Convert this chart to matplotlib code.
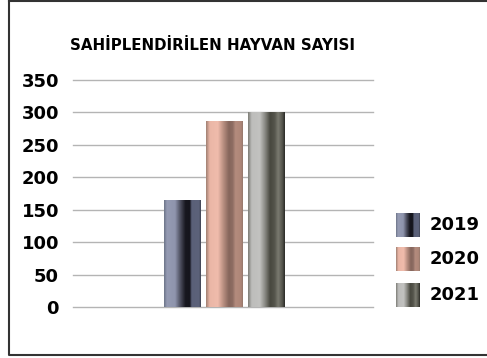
import matplotlib
matplotlib.use('Agg')
import matplotlib.pyplot as plt
import numpy as np
from matplotlib.colors import LinearSegmentedColormap

years = ['2019', '2020', '2021']
adopted = [165, 287, 300]
y_ticks = [0, 50, 100, 150, 200, 250, 300, 350]
title = 'SAHİPLENDİRİLEN HAYVAN SAYISI'

# metallic gradients, left to right across each bar
stops = {
    '2019': [(0.0, '#6c7488'), (0.08, '#959bb3'), (0.3, '#8f95ad'), (0.45, '#4a4c5c'),
             (0.58, '#17171f'), (0.7, '#15151d'), (0.75, '#5a6078'), (0.95, '#5c627a'), (1.0, '#3e4250')],
    '2020': [(0.0, '#a08072'), (0.1, '#eab6a6'), (0.32, '#f0bcac'), (0.48, '#b58c7e'),
             (0.62, '#86665c'), (0.72, '#8c6c62'), (0.8, '#b48c7e'), (0.95, '#ad8678'), (1.0, '#94786c')],
    '2021': [(0.0, '#7c7c76'), (0.1, '#bdbdbb'), (0.32, '#c2c2c0'), (0.46, '#8a8a84'),
             (0.6, '#48483f'), (0.72, '#55554c'), (0.82, '#7a7a70'), (0.93, '#55554c'), (1.0, '#2a2a26')],
}
cmaps = {k: LinearSegmentedColormap.from_list(k, v) for k, v in stops.items()}
grad = np.linspace(0, 1, 256).reshape(1, -1)

fig = plt.figure(figsize=(4.87, 3.58), dpi=100)
fig.patch.set_facecolor('white')

ax = fig.add_axes([73 / 487, 51 / 358, 300 / 487, 227 / 358])
x = np.arange(len(years)) - 1
bars = ax.bar(x, adopted, width=0.88, color='none', zorder=3)
for rect, yr in zip(bars, years):
    x0, y0 = rect.get_x(), rect.get_y()
    im = ax.imshow(grad, cmap=cmaps[yr], aspect='auto', zorder=3,
                   extent=[x0, x0 + rect.get_width(), y0, y0 + rect.get_height()])
    im.set_clip_path(rect)

ax.set_xlim(-3.6, 3.55)
ax.set_ylim(0, 350)
ax.set_yticks(y_ticks)
ax.set_xticks([])
ax.grid(axis='y', color='#b4b4b4', lw=1.0, zorder=0)
for gl in ax.yaxis.get_gridlines():
    gl.set_clip_on(False)
for s in ax.spines.values():
    s.set_visible(False)
ax.tick_params(axis='y', length=0, pad=10)
for t in ax.get_yticklabels():
    t.set_fontsize(13)
    t.set_fontweight('bold')

# overlay in pixel coords for frame, title and legend
ov = fig.add_axes([0, 0, 1, 1], zorder=5)
ov.set_xlim(0, 487)
ov.set_ylim(358, 0)
ov.axis('off')
ov.plot([9, 9, 490], [1, 355, 355], color='#333333', lw=1.5)
ov.plot([9, 490], [1, 1], color='#333333', lw=1.5)
ov.text(212, 46, title, ha='center', va='center', fontsize=10.8, fontweight='bold')

leg_y = [225, 259, 295]
for yr, yc in zip(years, leg_y):
    ov.imshow(grad, cmap=cmaps[yr], aspect='auto', extent=[396, 420, yc + 12, yc - 12], zorder=6)
    ov.text(430, yc, yr, ha='left', va='center', fontsize=13, fontweight='bold')
ov.set_xlim(0, 487)
ov.set_ylim(358, 0)

fig.savefig('out.png', dpi=100)
